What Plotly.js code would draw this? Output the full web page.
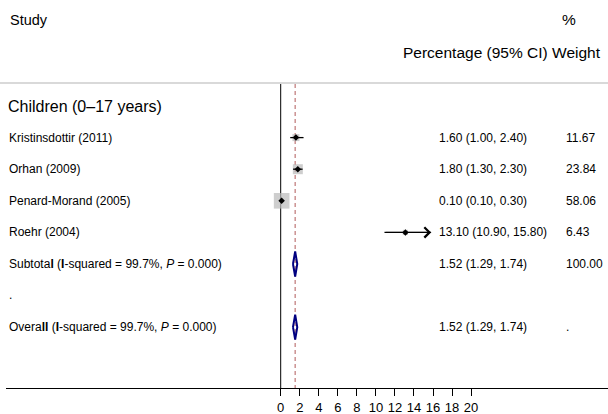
<!DOCTYPE html>
<html>
<head>
<meta charset="utf-8">
<script src="https://cdn.plot.ly/plotly-3.0.1.min.js"></script>
<style>html,body{margin:0;padding:0;background:#fff}#chart{width:608px;height:414px}</style>
</head>
<body>
<div id="chart"></div>
<script>
// ---- data ----
var groupLabel = 'Children (0–17 years)';
var studies = ['Kristinsdottir (2011)', 'Orhan (2009)', 'Penard-Morand (2005)', 'Roehr (2004)'];
var estimates = [1.60, 1.80, 0.10, 13.10];
var lowerCI = [1.00, 1.30, 0.10, 10.90];
var upperCI = [2.40, 2.30, 0.30, 15.80];
var weights = [11.67, 23.84, 58.06, 6.43];
var ciArrow = [false, false, false, true];
var pooledLabels = ['Subtota<b>l</b> (<b>I</b>-squared = 99.7%, <i>P</i> = 0.000)',
                    'Overa<b>ll</b> (<b>I</b>-squared = 99.7%, <i>P</i> = 0.000)'];
var pooledEst = [1.52, 1.52];
var pooledLower = [1.29, 1.29];
var pooledUpper = [1.74, 1.74];
var pooledWeightText = ['100.00', '.'];
var overallEst = 1.52;
var tickValues = [0, 2, 4, 6, 8, 10, 12, 14, 16, 18, 20];

// ---- layout helpers ----
var W = 608, H = 414;
var FONT = 'Liberation Sans, Arial, sans-serif';
var studyRows = [1, 2, 3, 4];
var pooledRows = [5, 7];
var blankRow = 6;
function px(x) { return x / W; }
function py(y) { return 1 - y / H; }
var row0 = 106, rowStep = 31.6;        // pixel y of row 0 and spacing
var plotBottom = 388;                   // axis line pixel y
var rTop = -row0 / rowStep;
var rBot = rTop + plotBottom / rowStep;
var xLeft = 6, zeroPx = 280.7, unitPx = 9.52;
var r0 = -(zeroPx - xLeft) / unitPx;
var r1 = r0 + (W - xLeft) / unitPx;
function fmt(v) { return v.toFixed(2); }

var traces = [];
// weight squares
traces.push({
  x: estimates, y: studyRows, type: 'scatter', mode: 'markers', hoverinfo: 'skip',
  marker: { symbol: 'square', color: '#b9b9b9', size: weights.map(function (w) { return 2.05 * Math.sqrt(w); }), line: { width: 0 } }
});
// CI lines + point estimates
traces.push({
  x: estimates, y: studyRows, type: 'scatter', mode: 'markers', hoverinfo: 'skip',
  marker: { symbol: 'diamond', color: '#000', size: 5 },
  error_x: {
    type: 'data', symmetric: false,
    array: estimates.map(function (e, i) { return upperCI[i] - e; }),
    arrayminus: estimates.map(function (e, i) { return e - lowerCI[i]; }),
    color: '#000', thickness: 1.3, width: 0
  }
});
// pooled diamonds
var halfH = 12.5 / rowStep;
pooledRows.forEach(function (r, i) {
  traces.push({
    x: [pooledLower[i], pooledEst[i], pooledUpper[i], pooledEst[i], pooledLower[i]],
    y: [r, r - halfH, r, r + halfH, r],
    type: 'scatter', mode: 'lines', hoverinfo: 'skip',
    line: { color: '#000080', width: 2 }, fill: 'none'
  });
});

var ann = [];
function txt(text, x, y, size, anchor) {
  var a = anchor || 'left';
  var dx = a === 'left' ? -2 : (a === 'right' ? 2 : 0);
  ann.push({ text: text, xref: 'paper', yref: 'paper', x: px(x + dx), y: py(y), xanchor: a, yanchor: 'middle',
    showarrow: false, font: { family: FONT, size: size, color: '#000' } });
}
function rowY(r) { return row0 + r * rowStep; }
txt('Study', 10, 20, 14.5);
txt('%', 562, 20, 15.5);
txt('Percentage (95% CI) Weight', 601, 52, 15.5, 'right');
txt(groupLabel, 8, rowY(0), 16);
studies.forEach(function (s, i) {
  var y = rowY(studyRows[i]);
  txt(s, 9, y, 12);
  txt(fmt(estimates[i]) + ' (' + fmt(lowerCI[i]) + ', ' + fmt(upperCI[i]) + ')', 439, y, 12);
  txt(fmt(weights[i]), 566, y, 12);
  if (ciArrow[i]) {
    ann.push({ x: upperCI[i], y: studyRows[i], ax: lowerCI[i], ay: studyRows[i], xref: 'x', yref: 'y', axref: 'x', ayref: 'y',
      text: '', showarrow: true, arrowhead: 4, arrowsize: 2, arrowwidth: 1, arrowcolor: '#000' });
  }
});
pooledRows.forEach(function (r, i) {
  var y = rowY(r);
  txt(pooledLabels[i], 9, y, 12);
  txt(fmt(pooledEst[i]) + ' (' + fmt(pooledLower[i]) + ', ' + fmt(pooledUpper[i]) + ')', 439, y, 12);
  txt(pooledWeightText[i], 566, y, 12);
});
txt('.', 9, rowY(blankRow) - 1, 12);

var shapes = [
  { type: 'line', xref: 'paper', yref: 'paper', x0: 0, x1: 1, y0: py(83), y1: py(83), line: { color: '#d9d9d9', width: 2 } },
  { type: 'line', xref: 'x', yref: 'paper', x0: 0, x1: 0, y0: py(83), y1: py(plotBottom), line: { color: '#000', width: 1 }, layer: 'below' },
  { type: 'line', xref: 'x', yref: 'paper', x0: overallEst, x1: overallEst, y0: py(84), y1: py(plotBottom), line: { color: '#c48080', width: 1.3, dash: '4px,3px' }, layer: 'below' }
];

var layout = {
  width: W, height: H, margin: { l: 0, r: 0, t: 0, b: 0 }, showlegend: false,
  paper_bgcolor: '#fff', plot_bgcolor: '#fff',
  xaxis: {
    domain: [px(xLeft), 1], range: [r0, r1], showgrid: false, zeroline: false,
    showline: true, linecolor: '#000', linewidth: 1,
    tickmode: 'array', tickvals: tickValues, ticktext: tickValues.map(String),
    ticks: 'outside', ticklen: 7, tickwidth: 1, tickcolor: '#000',
    tickfont: { family: FONT, size: 13, color: '#000' }, fixedrange: true
  },
  yaxis: {
    domain: [1 - plotBottom / H, 1], range: [rBot, rTop], showgrid: false, zeroline: false,
    showline: false, showticklabels: false, ticks: '', fixedrange: true
  },
  shapes: shapes, annotations: ann
};
Plotly.newPlot('chart', traces, layout, { displayModeBar: false, staticPlot: true });
</script>
</body>
</html>
